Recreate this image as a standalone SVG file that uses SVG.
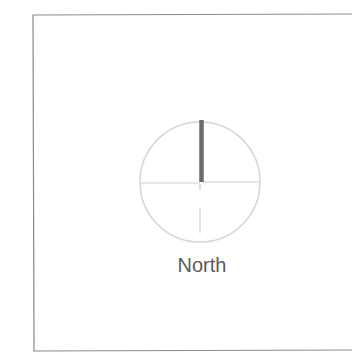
<svg xmlns="http://www.w3.org/2000/svg" width="352" height="364" viewBox="0 0 352 364">
<style>
.frame{fill:none;stroke:#8a8a8e;stroke-width:1.2}
.ring{fill:none;stroke:#d4d4d4;stroke-width:1.5}
.cross{stroke:#cfcfcf;stroke-width:1.2}
.needle{stroke:#6e6a6c;stroke-width:4.5}
.label{font-family:"Liberation Sans",Arial,sans-serif;font-size:20px;fill:#5a5a5a;text-anchor:middle}
</style>
<rect width="352" height="364" fill="#ffffff"/>
<g id="frame">
<polyline class="frame" points="352,14 33,15 34,351 352,350"/>
</g>
<g id="compass">
<circle class="ring" cx="200" cy="182" r="60"/>
<line class="cross" x1="140" y1="183" x2="200" y2="183"/>
<line class="cross" x1="202" y1="182" x2="260" y2="182"/>
<line class="cross" x1="200" y1="184" x2="200" y2="190" stroke="#eeeeee"/>
<line class="cross" x1="200" y1="208" x2="200" y2="233" stroke="#c4c4c4"/>
<line class="needle" x1="201.5" y1="120" x2="201.5" y2="182"/>
<text class="label" x="202" y="272">North</text>
</g>
</svg>
